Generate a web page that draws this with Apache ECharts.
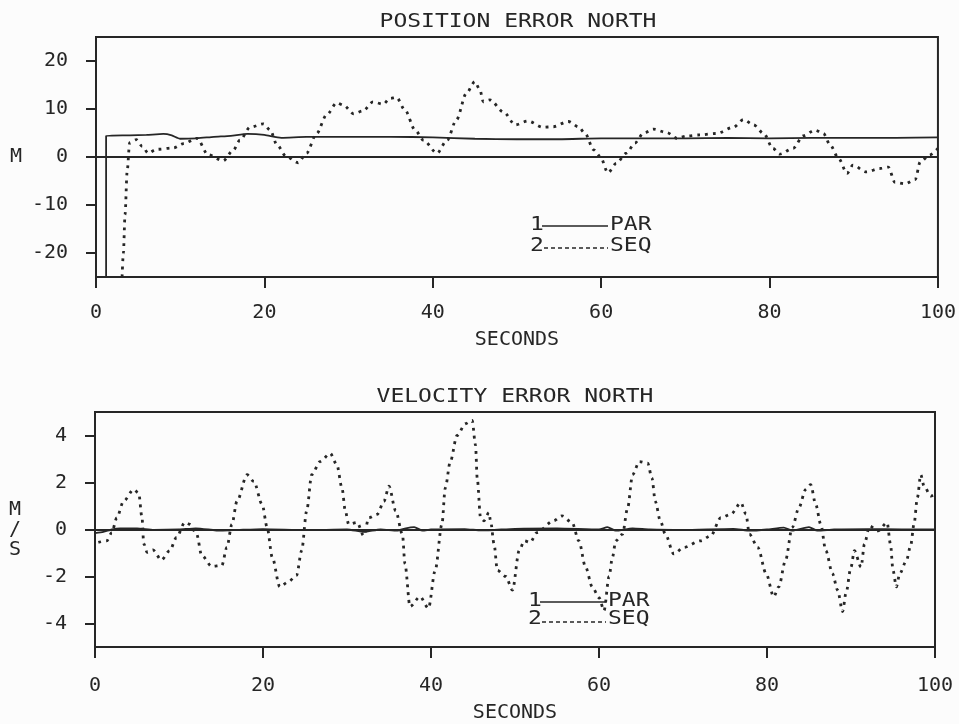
<!DOCTYPE html>
<html><head><meta charset="utf-8">
<script src="https://cdn.jsdelivr.net/npm/echarts@6/dist/echarts.min.js"></script>
<style>html,body{margin:0;padding:0;background:#fcfcfc}#c{width:959px;height:724px}</style>
</head><body><div id="c"></div>
<script>
// ---- tick labels ----
const xTicks = [0, 20, 40, 60, 80, 100];
const posTicks = [-20, -10, 0, 10, 20];
const velTicks = [-4, -2, 0, 2, 4];

// ---- POSITION ERROR NORTH (M) ----
const posParT = [1.2, 1.2, 4, 6, 8, 9, 10, 12, 14, 16, 18, 20, 22, 25, 30, 35, 40, 45, 50, 55, 60, 65, 70, 75, 80, 85, 90, 95, 100];
const posParV = [-25, 4.4, 4.5, 4.6, 4.8, 4.5, 3.8, 3.9, 4.2, 4.4, 4.8, 4.6, 4.0, 4.2, 4.2, 4.2, 4.1, 3.8, 3.7, 3.7, 3.9, 3.9, 3.9, 4.0, 3.9, 4.0, 4.0, 4.0, 4.1];

const posSeqT = [3.1, 3.25, 3.45, 3.7, 4.0, 4.8, 5.5, 6.2, 7.2, 9.2, 10.4, 12.0, 13.3, 15.1, 16.3, 17.1, 18.3, 19.9, 20.7, 21.5, 22.6, 24.0, 25.0, 26.2, 27.4, 28.6, 29.4, 30.6, 31.7, 32.9, 34.1, 34.9, 35.7, 36.7, 37.9, 38.9, 40.5, 41.7, 42.8, 44.0, 45.0, 45.6, 46.0, 46.8, 48.4, 49.8, 51.3, 53.1, 54.3, 56.1, 57.3, 58.1, 59.1, 59.9, 60.8, 61.8, 63.0, 64.0, 65.0, 66.2, 67.8, 69.0, 70.2, 71.7, 73.7, 75.7, 76.9, 78.1, 79.3, 80.4, 81.2, 82.8, 84.0, 85.4, 86.4, 87.2, 88.2, 89.2, 89.9, 91.5, 93.1, 94.1, 94.9, 96.1, 97.3, 97.9, 99.0, 100];
const posSeqV = [-25, -20, -12, -3, 3.0, 3.6, 2.2, 0.8, 1.6, 1.9, 2.8, 3.9, 0.5, -0.8, 1.4, 3.5, 6.2, 6.9, 5.6, 2.5, 0.1, -1.2, 0.8, 4.9, 8.8, 11.3, 10.8, 9.0, 9.6, 11.5, 11.0, 12.2, 12.4, 9.8, 5.6, 3.5, 0.8, 3.5, 7.7, 13.3, 15.7, 14.0, 11.5, 11.9, 9.4, 6.7, 7.5, 6.2, 6.3, 7.4, 6.3, 4.9, 1.5, 0.1, -3.3, -1.3, 0.8, 2.9, 4.9, 5.8, 5.1, 3.9, 4.4, 4.6, 4.9, 6.2, 7.8, 6.7, 4.9, 1.8, 0.6, 1.8, 4.4, 5.6, 4.9, 2.5, -0.3, -3.4, -1.7, -3.1, -2.4, -2.1, -5.3, -5.6, -4.7, -1.0, 0.4, 1.8];

// ---- VELOCITY ERROR NORTH (M/S) ----
const velParT = [0, 1, 2, 3, 5, 7, 10, 12, 15, 17, 20, 25, 30, 32, 34, 36, 37, 38, 39, 40, 44, 46, 50, 55, 60, 61, 62, 64, 66, 70, 76, 78, 80, 82, 83, 85, 86, 88, 92, 96, 100];
const velParV = [-0.15, -0.1, 0.0, 0.05, 0.05, -0.02, 0.0, 0.05, -0.05, -0.02, 0.02, -0.03, 0.0, -0.1, 0.0, -0.05, 0.05, 0.1, -0.05, 0.0, 0.02, -0.04, 0.03, 0.05, 0.0, 0.1, -0.05, 0.05, 0.0, -0.02, 0.03, -0.05, 0.0, 0.08, -0.05, 0.1, -0.05, 0.0, 0.02, 0.0, 0.0];

const velSeqT = [0.4, 1.4, 2.0, 2.6, 3.4, 4.6, 5.2, 5.6, 5.8, 6.2, 6.9, 7.9, 8.9, 9.7, 10.7, 11.3, 12.1, 12.7, 13.9, 15.1, 15.7, 16.3, 16.9, 18.1, 18.9, 19.9, 20.5, 21.1, 22.0, 23.0, 24.0, 24.6, 25.2, 25.8, 26.8, 28.0, 28.8, 29.4, 29.8, 30.2, 31.2, 32.0, 32.6, 33.6, 34.4, 35.0, 35.8, 36.6, 36.9, 37.5, 38.7, 39.7, 40.5, 41.3, 41.7, 42.3, 43.1, 44.1, 44.9, 45.3, 45.5, 45.9, 46.3, 46.9, 47.1, 47.5, 47.9, 48.9, 49.7, 50.5, 51.1, 51.8, 52.6, 54.6, 55.6, 56.8, 57.6, 58.4, 59.2, 60.0, 60.6, 61.2, 61.6, 62.0, 62.8, 63.4, 64.0, 64.8, 65.8, 66.3, 66.7, 67.3, 67.9, 68.9, 70.1, 72.1, 73.3, 74.5, 75.7, 76.9, 77.5, 77.9, 78.9, 79.9, 80.8, 81.4, 82.2, 83.0, 83.8, 84.6, 85.2, 85.8, 86.4, 87.0, 87.8, 88.4, 89.0, 89.4, 90.0, 90.4, 91.2, 91.6, 92.2, 93.2, 94.3, 94.7, 95.0, 95.4, 95.8, 96.6, 97.1, 97.5, 97.9, 98.3, 98.7, 99.5, 100];
const velSeqV = [-0.55, -0.48, -0.13, 0.5, 1.2, 1.7, 1.55, 0.5, -0.6, -0.97, -0.87, -1.3, -0.9, -0.34, 0.3, 0.22, -0.2, -1.1, -1.57, -1.53, -0.76, 0.22, 1.2, 2.33, 2.05, 1.07, 0.08, -1.18, -2.44, -2.23, -1.95, -0.9, 0.79, 2.33, 2.89, 3.24, 2.75, 1.77, 0.79, 0.22, 0.3, -0.27, 0.5, 0.65, 1.2, 1.84, 0.79, -0.2, -1.46, -3.28, -2.86, -3.35, -1.74, 0.22, 1.77, 2.89, 4.0, 4.5, 4.64, 3.59, 2.19, 0.5, 0.37, 0.72, 0.35, -0.6, -1.74, -2.0, -2.58, -0.9, -0.48, -0.55, -0.13, 0.37, 0.58, 0.29, -0.48, -1.6, -2.44, -2.9, -3.45, -2.0, -1.18, -0.48, -0.2, 0.9, 2.33, 2.89, 2.82, 2.19, 1.2, 0.37, -0.2, -1.04, -0.76, -0.48, -0.27, 0.5, 0.65, 1.14, 0.65, -0.2, -0.76, -1.88, -2.86, -2.44, -1.32, 0.08, 0.93, 1.7, 1.91, 1.07, 0.22, -0.9, -1.88, -2.58, -3.49, -2.72, -1.6, -0.9, -1.6, -0.62, 0.15, -0.06, 0.29, -0.62, -1.74, -2.44, -1.88, -1.32, -0.69, 0.22, 1.35, 2.33, 1.84, 1.42, 1.5];

const zip = (t, v) => t.map((x, i) => [x, v[i]]);
const INK = '#262626';
const FONT = 'DejaVu Sans Mono';
const GFONT = '20px "DejaVu Sans Mono"';

function xAxisOf(gi) {
  return {
    type: 'value', gridIndex: gi, min: 0, max: 100,
    name: 'SECONDS', nameLocation: 'middle', nameGap: gi === 0 ? 53 : 56,
    nameTextStyle: { fontFamily: FONT, fontSize: 20, color: INK },
    axisLine: { show: true, onZero: false, lineStyle: { color: INK, width: 2 } },
    axisTick: { show: true, inside: false, length: 11, lineStyle: { color: INK, width: 2 }, customValues: xTicks },
    axisLabel: { margin: gi === 0 ? 26 : 29, fontFamily: FONT, fontSize: 20, color: INK, customValues: xTicks },
    splitLine: { show: false }
  };
}
function yAxisOf(gi, lo, hi, ticks, name) {
  return {
    type: 'value', gridIndex: gi, min: lo, max: hi,
    name: name, nameLocation: 'middle', nameRotate: 0, nameGap: 74,
    nameTextStyle: { fontFamily: FONT, fontSize: 20, color: INK, lineHeight: 20 },
    axisLine: { show: true, onZero: false, lineStyle: { color: INK, width: 2 } },
    axisTick: { show: true, inside: false, length: 10, lineStyle: { color: INK, width: 2 }, customValues: ticks },
    axisLabel: { margin: 28, fontFamily: FONT, fontSize: 20, color: INK, customValues: ticks },
    splitLine: { show: false }
  };
}
const zeroLine = {
  silent: true, symbol: 'none', label: { show: false },
  lineStyle: { color: INK, width: 2, type: 'solid' },
  data: [{ yAxis: 0 }]
};
const parStyle = { color: INK, width: 1.8, type: 'solid' };
const seqStyle = { color: INK, width: 2.8, type: [2.8, 5] };

function txt(t, x, y, align) {
  return { type: 'text', x: x, y: y, scaleX: 1.15, style: { text: t, font: GFONT, fill: INK, textAlign: align || 'left', textVerticalAlign: 'middle' } };
}
function legend(x, y1, y2, dy2) {
  return [
    txt('1', x, y1),
    { type: 'line', shape: { x1: x + 12, y1: y1 + 1, x2: x + 78, y2: y1 + 1 }, style: { stroke: INK, lineWidth: 1.6 } },
    txt('PAR', x + 80, y1),
    txt('2', x, y2),
    { type: 'line', shape: { x1: x + 14, y1: y2 + dy2, x2: x + 78, y2: y2 + dy2 }, style: { stroke: INK, lineWidth: 1.6, lineDash: [4, 3] } },
    txt('SEQ', x + 80, y2)
  ];
}

const chart = echarts.init(document.getElementById('c'), null, { renderer: 'canvas' });
chart.setOption({
  backgroundColor: '#fcfcfc',
  animation: false,
  grid: [
    { left: 96, right: 21, top: 37, height: 240, show: true, borderColor: INK, borderWidth: 2, backgroundColor: 'transparent' },
    { left: 95, right: 24, top: 412, height: 239, show: true, borderColor: INK, borderWidth: 2, backgroundColor: 'transparent' }
  ],
  xAxis: [xAxisOf(0), xAxisOf(1)],
  yAxis: [yAxisOf(0, -25, 25, posTicks, 'M'), yAxisOf(1, -5, 5, velTicks, 'M\n/\nS')],
  graphic: [
    txt('POSITION ERROR NORTH', 518, 22, 'center'),
    txt('VELOCITY ERROR NORTH', 515, 397, 'center'),
    ...legend(530, 225, 246, 2),
    ...legend(528, 601, 619, 3)
  ],
  series: [
    { name: 'PAR', type: 'line', xAxisIndex: 0, yAxisIndex: 0, data: zip(posParT, posParV), showSymbol: false, smooth: 0.2, lineStyle: parStyle, markLine: zeroLine, clip: true },
    { name: 'SEQ', type: 'line', xAxisIndex: 0, yAxisIndex: 0, data: zip(posSeqT, posSeqV), showSymbol: false, smooth: 0.3, smoothMonotone: 'x', lineStyle: seqStyle, clip: true },
    { name: 'PAR', type: 'line', xAxisIndex: 1, yAxisIndex: 1, data: zip(velParT, velParV), showSymbol: false, smooth: 0.2, lineStyle: parStyle, markLine: zeroLine, clip: true },
    { name: 'SEQ', type: 'line', xAxisIndex: 1, yAxisIndex: 1, data: zip(velSeqT, velSeqV), showSymbol: false, smooth: 0.3, smoothMonotone: 'x', lineStyle: seqStyle, clip: true }
  ]
});
</script></body></html>
